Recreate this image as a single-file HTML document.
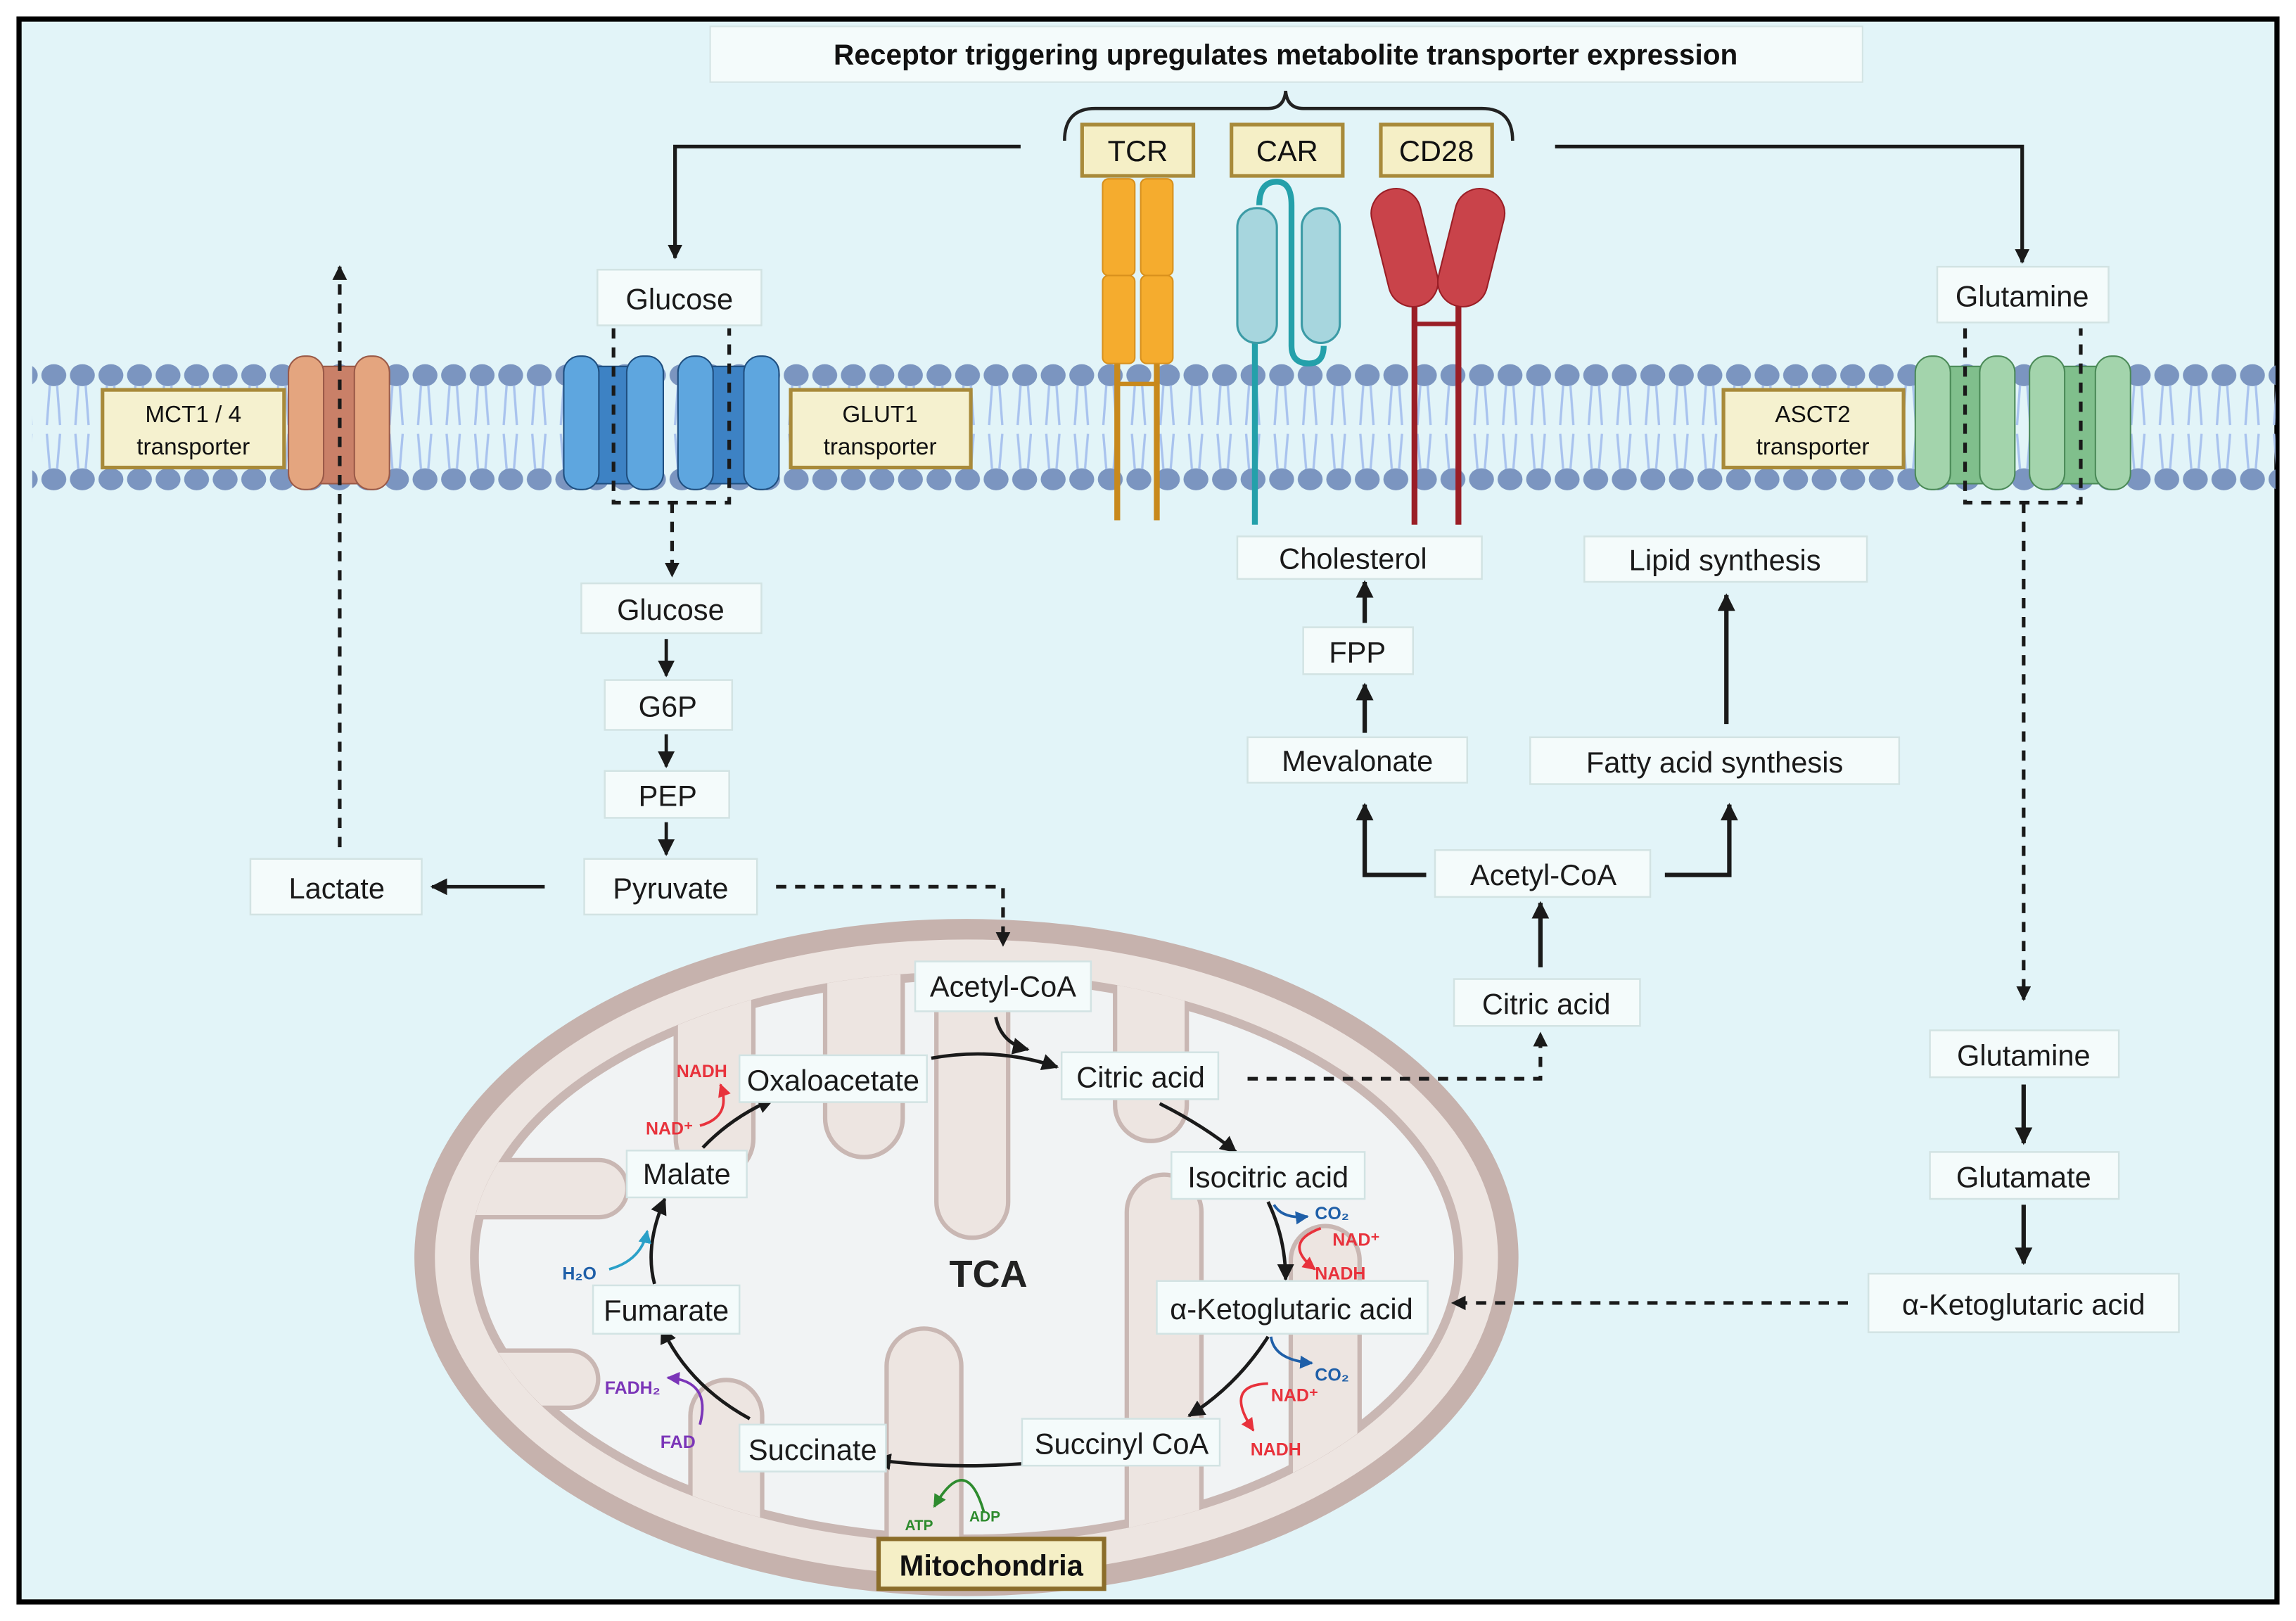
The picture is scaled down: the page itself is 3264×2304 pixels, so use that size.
<!DOCTYPE html>
<html><head><meta charset="utf-8"><style>
html,body{margin:0;padding:0;background:#fff;}
svg{display:block;}
text{font-family:"Liberation Sans",sans-serif;}
</style></head><body>
<svg width="3264" height="2304" viewBox="0 0 1568 1106" preserveAspectRatio="none" xmlns="http://www.w3.org/2000/svg">
<defs>
<marker id="ar" viewBox="0 0 10 10" refX="9" refY="5" markerWidth="4" markerHeight="4" orient="auto-start-reverse"><path d="M0,0 L10,5 L0,10 z" fill="#1a1a1a"/></marker>
<marker id="sa" viewBox="0 0 10 10" refX="9" refY="5" markerWidth="5" markerHeight="5" orient="auto"><path d="M0,0 L10,5 L0,10 z" fill="#1a1a1a"/></marker>
<marker id="ab" viewBox="0 0 10 10" refX="9" refY="5" markerWidth="5" markerHeight="5" orient="auto"><path d="M0,0 L10,5 L0,10 z" fill="#1f5fa8"/></marker>
<marker id="ared" viewBox="0 0 10 10" refX="9" refY="5" markerWidth="5" markerHeight="5" orient="auto"><path d="M0,0 L10,5 L0,10 z" fill="#e8323c"/></marker>
<marker id="ac" viewBox="0 0 10 10" refX="9" refY="5" markerWidth="5" markerHeight="5" orient="auto"><path d="M0,0 L10,5 L0,10 z" fill="#2aa0c8"/></marker>
<marker id="ap" viewBox="0 0 10 10" refX="9" refY="5" markerWidth="5" markerHeight="5" orient="auto"><path d="M0,0 L10,5 L0,10 z" fill="#7b35b8"/></marker>
<marker id="ag" viewBox="0 0 10 10" refX="9" refY="5" markerWidth="5" markerHeight="5" orient="auto"><path d="M0,0 L10,5 L0,10 z" fill="#2e8b2e"/></marker>
<pattern id="heads" x="27" y="0" width="19.5" height="1106" patternUnits="userSpaceOnUse">
<ellipse cx="9.75" cy="256" rx="8.5" ry="7.5" fill="#7b95c0"/>
<ellipse cx="9.75" cy="327" rx="8.5" ry="7.5" fill="#7b95c0"/>
<path d="M7,263 L5,290 M12,263 L14,290 M5,296 L7,320 M14,296 L12,320" stroke="#a9c3ee" stroke-width="1.6" fill="none"/>
</pattern>
<clipPath id="inner"><ellipse cx="660" cy="858" rx="339" ry="195"/></clipPath>
</defs>
<rect x="0" y="0" width="1568" height="1106" fill="#fff"/>
<rect x="13" y="13" width="1542" height="1080" fill="#e2f4f8" stroke="#000" stroke-width="3.5"/>

<!-- title -->
<rect x="485" y="18" width="787" height="38" fill="#f4fbfb" stroke="#d4e4e4"/>
<text x="878" y="44" font-size="19.5" font-weight="bold" text-anchor="middle" fill="#111">Receptor triggering upregulates metabolite transporter expression</text>
<path d="M727,96 Q727,74 748,74 L866,74 Q877,74 878,62 Q879,74 890,74 L1012,74 Q1033,74 1033,96" fill="none" stroke="#222" stroke-width="2.2"/>

<!-- membrane -->
<rect x="22" y="245" width="1532" height="92" fill="url(#heads)"/>

<!-- top arrows -->
<path d="M697,100 L461,100 L461,176" fill="none" stroke="#1a1a1a" stroke-width="2.5" marker-end="url(#ar)"/>
<path d="M1062,100 L1381,100 L1381,179" fill="none" stroke="#1a1a1a" stroke-width="2.5" marker-end="url(#ar)"/>

<!-- receptors -->
<g>
<line x1="763" y1="240" x2="763" y2="355" stroke="#c8891c" stroke-width="4"/>
<line x1="790" y1="240" x2="790" y2="355" stroke="#c8891c" stroke-width="4"/>
<line x1="763" y1="262" x2="790" y2="262" stroke="#c8891c" stroke-width="3"/>
<rect x="753" y="122" width="22" height="66" rx="4" fill="#f5ac2e" stroke="#d8901c"/>
<rect x="753" y="188" width="22" height="60" rx="4" fill="#f5ac2e" stroke="#d8901c"/>
<rect x="779" y="122" width="22" height="66" rx="4" fill="#f5ac2e" stroke="#d8901c"/>
<rect x="779" y="188" width="22" height="60" rx="4" fill="#f5ac2e" stroke="#d8901c"/>
</g>
<g>
<line x1="857" y1="225" x2="857" y2="358" stroke="#24a0aa" stroke-width="4"/>
<path d="M860,140 Q860,124 872,124 Q882,124 882,140 L882,236 Q882,248 894,248 Q904,248 904,236" fill="none" stroke="#24a0aa" stroke-width="4"/>
<rect x="845" y="142" width="27" height="92" rx="13" fill="#a7d6de" stroke="#3c9ba6" stroke-width="1.5"/>
<rect x="889" y="142" width="26" height="92" rx="13" fill="#a7d6de" stroke="#3c9ba6" stroke-width="1.5"/>
</g>
<g>
<line x1="966" y1="195" x2="966" y2="358" stroke="#9a1e26" stroke-width="4"/>
<line x1="996" y1="195" x2="996" y2="358" stroke="#9a1e26" stroke-width="4"/>
<line x1="966" y1="221" x2="996" y2="221" stroke="#9a1e26" stroke-width="3"/>
<rect x="942" y="128" width="34" height="82" rx="17" fill="#c9434a" stroke="#9a1e26" transform="rotate(-14 959 168)"/>
<rect x="988" y="128" width="34" height="82" rx="17" fill="#c9434a" stroke="#9a1e26" transform="rotate(14 1005 168)"/>
</g>
<g font-size="20" text-anchor="middle" fill="#111">
<rect x="739" y="85" width="76" height="35" fill="#f5efc6" stroke="#a88a3a" stroke-width="2.5"/><text x="777" y="110">TCR</text>
<rect x="841" y="85" width="76" height="35" fill="#f5efc6" stroke="#a88a3a" stroke-width="2.5"/><text x="879" y="110">CAR</text>
<rect x="943" y="85" width="76" height="35" fill="#f5efc6" stroke="#a88a3a" stroke-width="2.5"/><text x="981" y="110">CD28</text>
</g>

<!-- transporters -->
<g stroke-width="1">
<rect x="211" y="250" width="33" height="80" fill="#c98068" stroke="#9a5a48"/>
<rect x="197" y="243" width="24" height="91" rx="11" fill="#e4a57f" stroke="#9a5a48"/>
<rect x="242" y="243" width="24" height="91" rx="11" fill="#e4a57f" stroke="#9a5a48"/>
<rect x="398" y="250" width="44" height="80" fill="#3d82c4" stroke="#1f4f80"/>
<rect x="385" y="243" width="24" height="91" rx="11" fill="#5ea6df" stroke="#1f4f80"/>
<rect x="428" y="243" width="25" height="91" rx="11" fill="#5ea6df" stroke="#1f4f80"/>
<rect x="475" y="250" width="44" height="80" fill="#3d82c4" stroke="#1f4f80"/>
<rect x="463" y="243" width="24" height="91" rx="11" fill="#5ea6df" stroke="#1f4f80"/>
<rect x="508" y="243" width="24" height="91" rx="11" fill="#5ea6df" stroke="#1f4f80"/>
<rect x="1320" y="250" width="44" height="80" fill="#80bf8c" stroke="#4b8a58"/>
<rect x="1308" y="243" width="24" height="91" rx="11" fill="#a3d4ac" stroke="#4b8a58"/>
<rect x="1352" y="243" width="24" height="91" rx="11" fill="#a3d4ac" stroke="#4b8a58"/>
<rect x="1398" y="250" width="44" height="80" fill="#80bf8c" stroke="#4b8a58"/>
<rect x="1386" y="243" width="24" height="91" rx="11" fill="#a3d4ac" stroke="#4b8a58"/>
<rect x="1431" y="243" width="24" height="91" rx="11" fill="#a3d4ac" stroke="#4b8a58"/>
</g>
<g font-size="16" text-anchor="middle" fill="#111">
<rect x="70" y="266" width="124" height="53" fill="#f5f1cf" stroke="#a88a3a" stroke-width="2.5"/><text x="132" y="288">MCT1 / 4</text><text x="132" y="310">transporter</text>
<rect x="540" y="266" width="123" height="53" fill="#f5f1cf" stroke="#a88a3a" stroke-width="2.5"/><text x="601" y="288">GLUT1</text><text x="601" y="310">transporter</text>
<rect x="1177" y="266" width="123" height="53" fill="#f5f1cf" stroke="#a88a3a" stroke-width="2.5"/><text x="1238" y="288">ASCT2</text><text x="1238" y="310">transporter</text>
</g>

<!-- mitochondria -->
<ellipse cx="660" cy="858" rx="370" ry="224" fill="#ede5e1" stroke="#c6b2ad" stroke-width="14"/>
<ellipse cx="660" cy="858" rx="336" ry="192" fill="#f1f3f4" stroke="#c9b7b3" stroke-width="6"/>
<g clip-path="url(#inner)">
<g fill="none" stroke="#c9b7b3" stroke-width="6">
<rect x="565" y="600" width="50" height="188" rx="25"/>
<rect x="641" y="600" width="46" height="243" rx="23"/>
<rect x="463" y="600" width="50" height="202" rx="25"/>
<rect x="763" y="600" width="46" height="177" rx="23"/>
<rect x="1010" y="720" width="60" height="110" rx="25"/>
<rect x="607" y="908" width="48" height="200" rx="24"/>
<rect x="771" y="803" width="48" height="300" rx="24"/>
<rect x="883" y="838" width="44" height="240" rx="22"/>
<rect x="270" y="793" width="157" height="36" rx="18"/>
<rect x="270" y="923" width="137" height="36" rx="18"/>
<rect x="473" y="943" width="46" height="160" rx="23"/>
</g>
<g fill="#ede5e1">
<rect x="565" y="600" width="50" height="188" rx="25"/>
<rect x="641" y="600" width="46" height="243" rx="23"/>
<rect x="463" y="600" width="50" height="202" rx="25"/>
<rect x="763" y="600" width="46" height="177" rx="23"/>
<rect x="1010" y="720" width="60" height="110" rx="25"/>
<rect x="607" y="908" width="48" height="200" rx="24"/>
<rect x="771" y="803" width="48" height="300" rx="24"/>
<rect x="883" y="838" width="44" height="240" rx="22"/>
<rect x="270" y="793" width="157" height="36" rx="18"/>
<rect x="270" y="923" width="137" height="36" rx="18"/>
<rect x="473" y="943" width="46" height="160" rx="23"/>
</g>
</g>

<!-- dashed lines -->
<g fill="none" stroke="#1a1a1a" stroke-width="2.5" stroke-dasharray="7,6">
<path d="M232,578 L232,182" marker-end="url(#ar)"/>
<path d="M419,224 L419,343 L498,343 L498,224"/>
<path d="M459,343 L459,393" marker-end="url(#ar)"/>
<path d="M530,605 L685,605 L685,645" marker-end="url(#ar)"/>
<path d="M1342,224 L1342,343 L1421,343 L1421,224"/>
<path d="M1382,343 L1382,682" marker-end="url(#ar)"/>
<path d="M852,736 L1052,736 L1052,705" marker-end="url(#ar)"/>
<path d="M1262,889 L992,889" marker-end="url(#ar)"/>
</g>

<!-- solid arrows -->
<g fill="none" stroke="#1a1a1a" stroke-width="2.3">
<path d="M455,436 L455,461" marker-end="url(#sa)"/>
<path d="M455,501 L455,523" marker-end="url(#sa)"/>
<path d="M455,561 L455,583" marker-end="url(#sa)"/>
<path d="M372,605 L295,605" marker-end="url(#sa)"/>
<path d="M932,500 L932,467" stroke-width="3" marker-end="url(#ar)"/>
<path d="M932,425 L932,397" stroke-width="3" marker-end="url(#ar)"/>
<path d="M974,597 L932,597 L932,549" stroke-width="3" marker-end="url(#ar)"/>
<path d="M1137,597 L1181,597 L1181,549" stroke-width="3" marker-end="url(#ar)"/>
<path d="M1179,494 L1179,406" stroke-width="3" marker-end="url(#ar)"/>
<path d="M1052,660 L1052,616" stroke-width="3" marker-end="url(#ar)"/>
<path d="M1382,740 L1382,780" stroke-width="3" marker-end="url(#ar)"/>
<path d="M1382,822 L1382,862" stroke-width="3" marker-end="url(#ar)"/>
</g>

<text x="675" y="878" font-size="26" font-weight="bold" text-anchor="middle" fill="#222">TCA</text>

<!-- TCA arrows -->
<g fill="none" stroke="#1a1a1a" stroke-width="2.3">
<path d="M680,694 Q684,712 702,716" marker-end="url(#sa)"/>
<path d="M636,722 Q680,714 722,728" marker-end="url(#sa)"/>
<path d="M792,753 Q822,768 844,786" marker-end="url(#sa)"/>
<path d="M866,820 Q878,845 878,873" marker-end="url(#sa)"/>
<path d="M866,912 Q845,945 812,966" marker-end="url(#sa)"/>
<path d="M707,998 Q650,1003 598,996" marker-end="url(#sa)"/>
<path d="M512,968 Q470,945 452,906" marker-end="url(#sa)"/>
<path d="M447,876 Q440,850 454,818" marker-end="url(#sa)"/>
<path d="M480,783 Q500,762 528,750" marker-end="url(#sa)"/>
</g>
<g fill="none" stroke-width="1.8">
<path d="M478,768 Q500,762 492,740" stroke="#e8323c" marker-end="url(#ared)"/>
<path d="M416,866 Q438,860 442,840" stroke="#2aa0c8" marker-end="url(#ac)"/>
<path d="M478,972 Q486,942 456,940" stroke="#7b35b8" marker-end="url(#ap)"/>
<path d="M870,822 Q876,832 893,830" stroke="#1f5fa8" marker-end="url(#ab)"/>
<path d="M902,838 Q875,848 898,866" stroke="#e8323c" marker-end="url(#ared)"/>
<path d="M868,912 Q870,928 896,930" stroke="#1f5fa8" marker-end="url(#ab)"/>
<path d="M866,944 Q835,945 856,976" stroke="#e8323c" marker-end="url(#ared)"/>
<path d="M672,1032 Q660,990 638,1028" stroke="#2e8b2e" marker-end="url(#ag)"/>
</g>
<g font-size="12" font-weight="bold">
<text x="462" y="735" fill="#e8323c">NADH</text>
<text x="441" y="774" fill="#e8323c">NAD⁺</text>
<text x="384" y="873" fill="#1f5fa8">H₂O</text>
<text x="413" y="951" fill="#7b35b8">FADH₂</text>
<text x="451" y="988" fill="#7b35b8">FAD</text>
<text x="898" y="832" fill="#1f5fa8">CO₂</text>
<text x="910" y="850" fill="#e8323c">NAD⁺</text>
<text x="898" y="873" fill="#e8323c">NADH</text>
<text x="898" y="942" fill="#1f5fa8">CO₂</text>
<text x="868" y="956" fill="#e8323c">NAD⁺</text>
<text x="854" y="993" fill="#e8323c">NADH</text>
<text x="618" y="1044" font-size="10" fill="#2e8b2e">ATP</text>
<text x="662" y="1038" font-size="10" fill="#2e8b2e">ADP</text>
</g>

<!-- nodes -->
<g font-size="20" text-anchor="middle" fill="#1a1a1a">
<g fill="#f4fbfb" stroke="#d2e3e3" stroke-width="1.2">
<rect x="408" y="184" width="112" height="38"/>
<rect x="1323" y="182" width="117" height="38"/>
<rect x="397" y="398" width="123" height="34"/>
<rect x="413" y="464" width="87" height="34"/>
<rect x="413" y="526" width="85" height="32"/>
<rect x="399" y="586" width="118" height="38"/>
<rect x="171" y="586" width="117" height="38"/>
<rect x="845" y="366" width="167" height="29"/>
<rect x="890" y="428" width="75" height="32"/>
<rect x="852" y="503" width="150" height="31"/>
<rect x="1082" y="366" width="193" height="31"/>
<rect x="1045" y="503" width="252" height="32"/>
<rect x="980" y="580" width="147" height="32"/>
<rect x="993" y="668" width="127" height="32"/>
<rect x="1318" y="703" width="129" height="32"/>
<rect x="1318" y="786" width="129" height="32"/>
<rect x="1276" y="869" width="212" height="40"/>
<rect x="625" y="656" width="120" height="34"/>
<rect x="505" y="720" width="128" height="32"/>
<rect x="725" y="718" width="107" height="32"/>
<rect x="800" y="786" width="132" height="32"/>
<rect x="790" y="874" width="185" height="36"/>
<rect x="698" y="968" width="135" height="32"/>
<rect x="505" y="972" width="100" height="32"/>
<rect x="405" y="877" width="100" height="33"/>
<rect x="428" y="785" width="82" height="32"/>
</g>
<text x="464" y="211">Glucose</text>
<text x="1381" y="209">Glutamine</text>
<text x="458" y="423">Glucose</text>
<text x="456" y="489">G6P</text>
<text x="456" y="550">PEP</text>
<text x="458" y="613">Pyruvate</text>
<text x="230" y="613">Lactate</text>
<text x="924" y="388">Cholesterol</text>
<text x="927" y="452">FPP</text>
<text x="927" y="526">Mevalonate</text>
<text x="1178" y="389">Lipid synthesis</text>
<text x="1171" y="527">Fatty acid synthesis</text>
<text x="1054" y="604">Acetyl-CoA</text>
<text x="1056" y="692">Citric acid</text>
<text x="1382" y="727">Glutamine</text>
<text x="1382" y="810">Glutamate</text>
<text x="1382" y="897">α-Ketoglutaric acid</text>
<text x="685" y="680">Acetyl-CoA</text>
<text x="569" y="744">Oxaloacetate</text>
<text x="779" y="742">Citric acid</text>
<text x="866" y="810">Isocitric acid</text>
<text x="882" y="900">α-Ketoglutaric acid</text>
<text x="766" y="992">Succinyl CoA</text>
<text x="555" y="996">Succinate</text>
<text x="455" y="901">Fumarate</text>
<text x="469" y="808">Malate</text>
</g>
<rect x="600" y="1050" width="154" height="34" fill="#f5efc6" stroke="#8b6d2a" stroke-width="3"/>
<text x="677" y="1075" font-size="20" font-weight="bold" text-anchor="middle" font-family="Liberation Serif, serif" fill="#111">Mitochondria</text>
</svg>
</body></html>
